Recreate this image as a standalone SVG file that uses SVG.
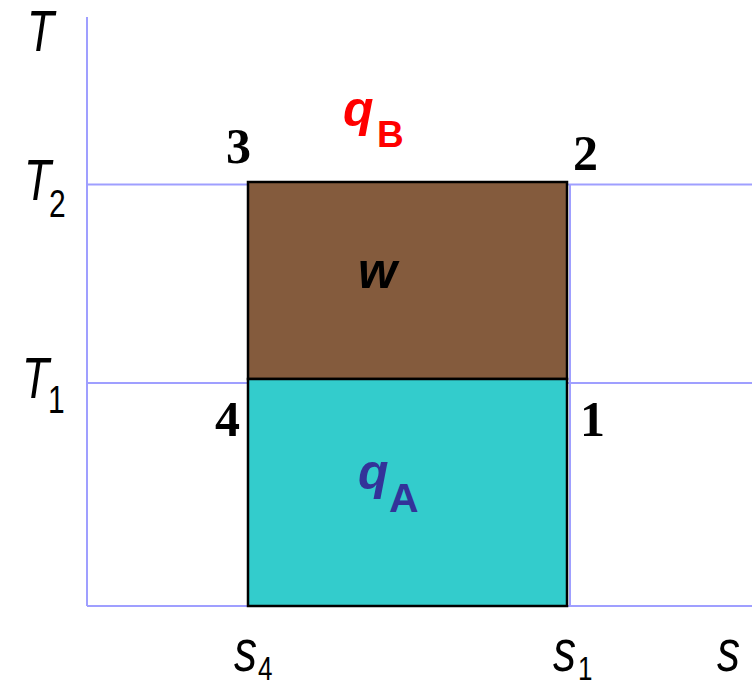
<svg xmlns="http://www.w3.org/2000/svg" width="752" height="684" viewBox="0 0 752 684">
<style>
.ax{stroke:#9f9fff;stroke-width:2;fill:none}
.sans{font-family:"Liberation Sans",Arial,sans-serif}
.it{font-style:italic}
.num{font-family:"Liberation Serif","Times New Roman",serif;font-weight:bold;font-size:50px;fill:#000}
.q{font-family:"Liberation Sans",Arial,sans-serif;font-weight:bold;font-style:italic;font-size:50px}
.sub{font-family:"Liberation Sans",Arial,sans-serif;font-weight:bold}
</style>
<rect width="752" height="684" fill="#fff"/>
<g id="axes">
<line class="ax" x1="87" y1="17" x2="87" y2="606"/>
<line class="ax" x1="87" y1="184.5" x2="752" y2="184.5"/>
<line class="ax" x1="87" y1="383" x2="752" y2="383"/>
<line class="ax" x1="87" y1="606" x2="752" y2="606"/>
<line class="ax" x1="570" y1="184" x2="570" y2="606"/>
</g>
<g id="area-w">
<rect x="248" y="182" width="319" height="197" fill="#845b3d" stroke="#000" stroke-width="2.5"/>
</g>
<g id="area-qA">
<rect x="248" y="379" width="319" height="227" fill="#33cccc" stroke="#000" stroke-width="2.5"/>
</g>
<g id="axis-labels" class="sans it" fill="#000">
<text transform="translate(27,51) scale(1,1.3)" font-size="44">T</text>
<text transform="translate(24,200) scale(1,1.3)" font-size="44">T</text>
<text transform="translate(49,217) scale(1,1.3)" font-size="30" font-style="normal">2</text>
<text transform="translate(22,398) scale(1,1.3)" font-size="44">T</text>
<text transform="translate(48,413) scale(1,1.3)" font-size="30" font-style="normal">1</text>
<text transform="translate(234,671) scale(1,1.3)" font-size="46">s</text>
<text transform="translate(258,680) scale(1,1.3)" font-size="26" font-style="normal">4</text>
<text transform="translate(553,671) scale(1,1.3)" font-size="46">s</text>
<text transform="translate(578,680) scale(1,1.3)" font-size="26" font-style="normal">1</text>
<text transform="translate(717,671) scale(1,1.3)" font-size="46">s</text>
</g>
<g id="point-labels" class="num">
<text x="226" y="163">3</text>
<text x="573" y="170">2</text>
<text x="215" y="436">4</text>
<text x="580" y="436">1</text>
</g>
<g id="label-qB" fill="#ff0000">
<text class="q" x="343" y="126">q</text>
<text class="sub" x="377" y="147" font-size="37">B</text>
</g>
<g id="label-w">
<text class="q" x="358" y="288" font-size="56" fill="#000">w</text>
</g>
<g id="label-qA" fill="#333399">
<text class="q" x="358" y="489">q</text>
<text class="sub" x="389" y="512" font-size="41">A</text>
</g>
</svg>
